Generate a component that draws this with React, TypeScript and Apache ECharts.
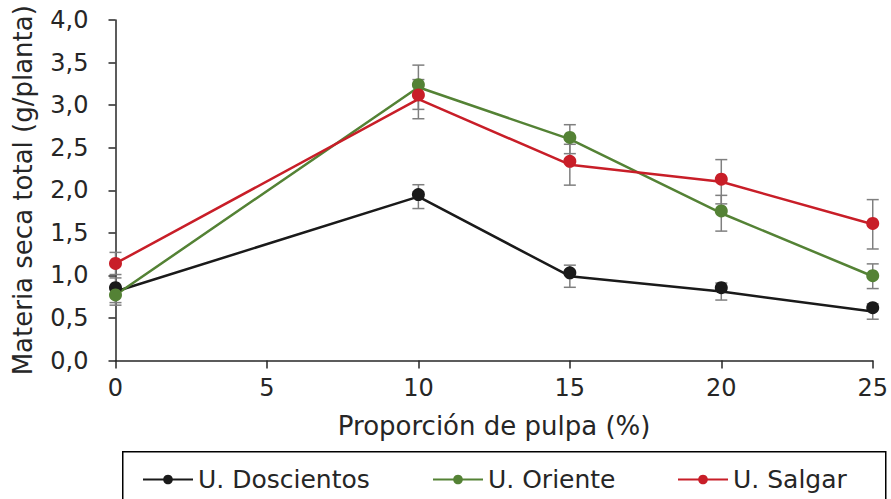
import React, { useEffect, useRef } from "react";
import * as echarts from "echarts";

const xValues = [0, 10, 15, 20, 25];
const xTicks = [0, 5, 10, 15, 20, 25];
const yTickStep = 0.5;

const seriesNames = ["U. Doscientos", "U. Oriente", "U. Salgar"];
const seriesColors = ["#1a1a1a", "#548235", "#c81e28"];

// marker values
const doscientosMean = [0.855, 1.95, 1.03, 0.855, 0.62];
const orienteMean = [0.77, 3.24, 2.62, 1.757, 0.997];
const salgarMean = [1.14, 3.12, 2.34, 2.13, 1.61];

// connecting-line values
const doscientosLine = [0.81, 1.925, 0.99, 0.81, 0.575];
const orienteLine = [0.77, 3.21, 2.6, 1.73, 0.99];
const salgarLine = [1.14, 3.07, 2.3, 2.1, 1.6];

// error bar half-widths (centred on line values)
const doscientosErr = [0.16, 0.14, 0.13, 0.1, 0.09];
const orienteErr = [0.09, 0.26, 0.17, 0.21, 0.145];
const salgarErr = [0.13, 0.23, 0.24, 0.26, 0.29];

const means = [doscientosMean, orienteMean, salgarMean];
const lines = [doscientosLine, orienteLine, salgarLine];
const errs = [doscientosErr, orienteErr, salgarErr];

const FONT = "DejaVu Sans";
const TEXT = "#262626";

export default function App() {
  const ref = useRef<HTMLDivElement>(null);
  useEffect(() => {
    if (!ref.current) return;
    const chart = echarts.init(ref.current, null, { renderer: "svg" });

    const series: any[] = [];
    // lines
    seriesNames.forEach((name, i) => {
      series.push({
        name,
        type: "line",
        data: xValues.map((x, j) => [x, lines[i][j]]),
        symbol: "circle",
        symbolSize: 12,
        showSymbol: false,
        lineStyle: { color: seriesColors[i], width: 2.5 },
        itemStyle: { color: seriesColors[i] },
        z: 2,
      });
    });
    // error bars
    seriesNames.forEach((name, i) => {
      series.push({
        name: name + " err",
        type: "custom",
        data: xValues.map((x, j) => [x, lines[i][j] - errs[i][j], lines[i][j] + errs[i][j]]),
        renderItem: (params: any, api: any) => {
          const x = api.value(0);
          const lo = api.coord([x, api.value(1)]);
          const hi = api.coord([x, api.value(2)]);
          const hw = 6;
          const style = { stroke: "#7f7f7f", lineWidth: 1.5 };
          return {
            type: "group",
            children: [
              { type: "line", shape: { x1: lo[0], y1: lo[1], x2: hi[0], y2: hi[1] }, style },
              { type: "line", shape: { x1: lo[0] - hw, y1: lo[1], x2: lo[0] + hw, y2: lo[1] }, style },
              { type: "line", shape: { x1: hi[0] - hw, y1: hi[1], x2: hi[0] + hw, y2: hi[1] }, style },
            ],
          };
        },
        z: 3,
        silent: true,
      });
    });
    // markers
    seriesNames.forEach((name, i) => {
      series.push({
        name,
        type: "scatter",
        data: xValues.map((x, j) => [x, means[i][j]]),
        symbol: "circle",
        symbolSize: 13,
        itemStyle: { color: seriesColors[i], opacity: 1 },
        z: 4,
      });
    });

    const legendLefts = [137, 427, 672];

    chart.setOption({
      animation: false,
      backgroundColor: "#ffffff",
      textStyle: { fontFamily: FONT },
      grid: { left: 115.5, right: 17.5, top: 20, bottom: 138.5 },
      xAxis: {
        type: "value",
        min: xTicks[0],
        max: xTicks[xTicks.length - 1],
        interval: 5,
        name: "Proporción de pulpa (%)",
        nameLocation: "middle",
        nameGap: 52,
        nameTextStyle: { fontSize: 26, color: TEXT, fontFamily: FONT },
        axisLine: { show: true, onZero: false, lineStyle: { color: "#262626", width: 1.5 } },
        axisTick: { show: true, length: 8, lineStyle: { color: "#262626", width: 1.5 } },
        axisLabel: { fontSize: 24, color: TEXT, margin: 15, fontFamily: FONT },
        splitLine: { show: false },
      },
      yAxis: {
        type: "value",
        min: 0,
        max: 4,
        interval: yTickStep,
        name: "Materia seca total (g/planta)",
        nameLocation: "middle",
        nameGap: 80,
        nameRotate: 90,
        nameTextStyle: { fontSize: 26, color: TEXT, fontFamily: FONT },
        axisLine: { show: true, lineStyle: { color: "#262626", width: 1.5 } },
        axisTick: { show: true, length: 7, lineStyle: { color: "#262626", width: 1.5 } },
        axisLabel: {
          fontSize: 24,
          color: TEXT,
          margin: 27,
          fontFamily: FONT,
          formatter: (v: number) => v.toFixed(1).replace(".", ","),
        },
        splitLine: { show: false },
      },
      legend: seriesNames.map((name, i) => ({
        data: [name],
        left: legendLefts[i],
        top: 462,
        itemWidth: 50,
        itemHeight: 12,
        itemGap: 6,
        textStyle: { fontSize: 25, color: TEXT, fontFamily: FONT },
        selectedMode: false,
      })),
      graphic: [
        {
          type: "rect",
          left: 122,
          top: 451,
          shape: { width: 763, height: 100 },
          style: { fill: "#ffffff", stroke: "#000000", lineWidth: 1.5 },
          z: -10,
        },
      ],
      series,
    });
    return () => chart.dispose();
  }, []);
  return <div ref={ref} style={{ width: 891, height: 499, position: "absolute", left: 0, top: 0 }} />;
}
